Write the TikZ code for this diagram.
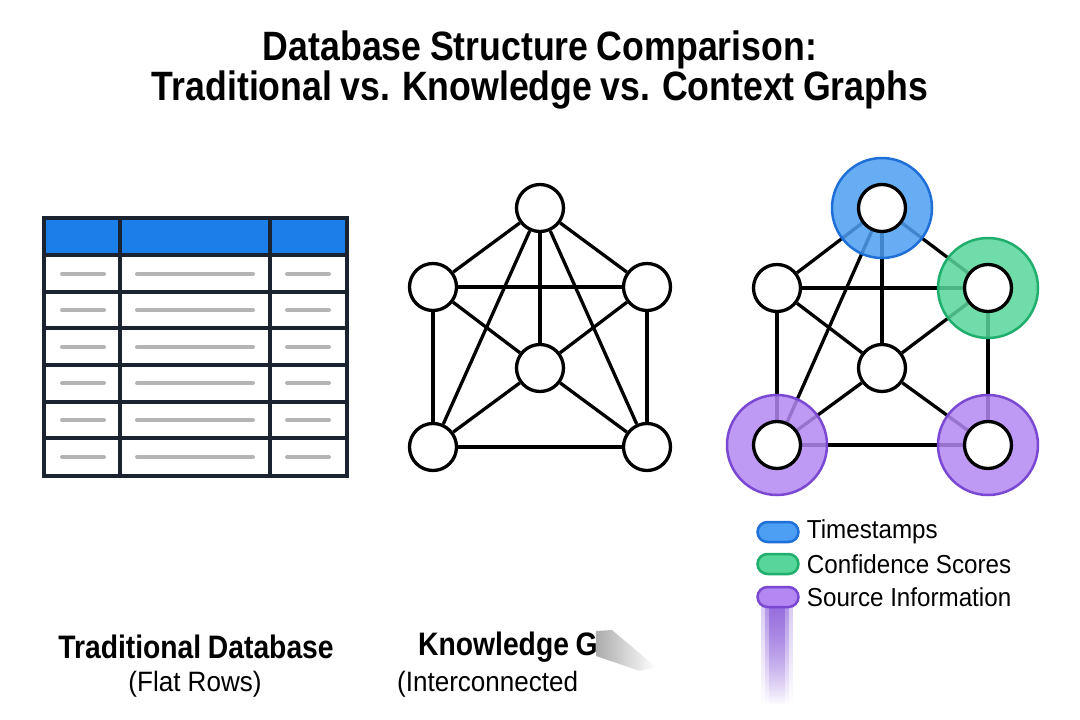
\documentclass[tikz,border=0pt]{standalone}
\usepackage{fontspec}
\setmainfont{Liberation Sans}[FakeStretch=0.93]
\newfontfamily\titlefont{Liberation Sans}[FakeStretch=0.87, WordSpace=0.85]
\usetikzlibrary{positioning, fadings, backgrounds}

\definecolor{hdrblue}{HTML}{1A7FE8}
\definecolor{tblline}{HTML}{1B2230}
\definecolor{rowgray}{HTML}{B4B4B4}
\definecolor{tsfill}{HTML}{4C9FF2}
\definecolor{tsdraw}{HTML}{1E6FD8}
\definecolor{cffill}{HTML}{56D69A}
\definecolor{cfdraw}{HTML}{20AE6C}
\definecolor{srcfill}{HTML}{B388F2}
\definecolor{srcdraw}{HTML}{7A48D2}

\pgfdeclarelayer{edges}
\pgfdeclarelayer{rings}
\pgfsetlayers{edges,rings,main}

\begin{document}
\begin{tikzpicture}[
    x=1pt, y=-1pt,
    % Styles
    vertex/.style={circle, draw=black, fill=white, line width=3.3pt, minimum size=47pt, inner sep=0pt},
    link/.style={line width=3.3pt, color=black},
    ring/.style={circle, line width=2.5pt, minimum size=100pt, inner sep=0pt, fill opacity=0.85},
    pill/.style={rectangle, rounded corners=10pt, line width=2.5pt, minimum width=41pt, minimum height=20pt, inner sep=0pt},
    legendtext/.style={anchor=west, inner sep=0pt, font=\fontsize{26}{30}\selectfont},
    heading/.style={inner sep=0pt, font=\titlefont\bfseries\fontsize{32.5}{36}\selectfont},
    subheading/.style={inner sep=0pt, font=\fontsize{28}{34}\selectfont},
    cell/.style={draw=tblline, line width=3.8pt},
    rowbar/.style={draw=rowgray, line width=4pt, line cap=round}
]
\useasboundingbox (0,0) rectangle (1080,720);

% Title
\node[align=center, font=\titlefont\bfseries\fontsize{41}{40}\selectfont] (title) at (540,70)
    {Database Structure Comparison:\\Traditional vs. Knowledge vs. Context Graphs};

% Traditional database table
\fill[hdrblue] (44,218) rectangle (347,255);
\foreach \y in {274,310,347,383,420,457} {
    \draw[rowbar] (62,\y) -- (104,\y);
    \draw[rowbar] (137,\y) -- (253,\y);
    \draw[rowbar] (287,\y) -- (329,\y);
}
\foreach \y in {255,292,328,365,402,438}
    \draw[cell] (44,\y) -- (347,\y);
\foreach \x in {120,270}
    \draw[cell] (\x,218) -- (\x,476);
\draw[cell] (44,218) rectangle (347,476);

% Knowledge graph
\node[vertex] (kT) at (540,208) {};
\node[vertex] (kL) at (433,287) {};
\node[vertex] (kR) at (647,287) {};
\node[vertex] (kC) at (540,368) {};
\node[vertex] (kBL) at (433,447) {};
\node[vertex] (kBR) at (647,447) {};
\begin{pgfonlayer}{edges}
\foreach \a/\b in {kT/kL, kT/kR, kT/kC, kT/kBL, kT/kBR, kL/kR, kL/kC, kL/kBL,
                   kR/kC, kR/kBR, kC/kBL, kC/kBR, kBL/kBR}
    \draw[link] (\a) -- (\b);
\end{pgfonlayer}

% Context graph
\node[vertex] (cT) at (882,208) {};
\node[vertex] (cL) at (777,288) {};
\node[vertex] (cR) at (988,288) {};
\node[vertex] (cC) at (882,368) {};
\node[vertex] (cBL) at (777,445) {};
\node[vertex] (cBR) at (988,445) {};
\begin{pgfonlayer}{edges}
\foreach \a/\b in {cT/cL, cT/cR, cT/cC, cT/cBL, cL/cR, cL/cC, cL/cBL,
                   cR/cC, cR/cBR, cC/cBL, cC/cBR, cBL/cBR}
    \draw[link] (\a) -- (\b);
\end{pgfonlayer}
\begin{pgfonlayer}{rings}
\node[ring, fill=tsfill, draw=tsdraw] (tsring) at (cT) {};
\node[ring, fill=cffill, draw=cfdraw] (cfring) at (cR) {};
\node[ring, fill=srcfill, draw=srcdraw] (srcringL) at (cBL) {};
\node[ring, fill=srcfill, draw=srcdraw] (srcringR) at (cBR) {};
\end{pgfonlayer}

% Legend
\node[pill, fill=tsfill, draw=tsdraw] (tskey) at (778,532) {};
\node[legendtext, right=7pt of tskey] (tslbl) {Timestamps};
\node[pill, fill=cffill, draw=cfdraw] (cfkey) at (778,564) {};
\node[legendtext, right=7pt of cfkey] (cflbl) {Confidence Scores};
\node[pill, fill=srcfill, draw=srcdraw] (srckey) at (778,597) {};
\node[legendtext, right=7pt of srckey] (srclbl) {Source Information};
\begin{pgfonlayer}{edges}
\foreach \w/\o in {16/0.3, 12/0.45, 8/0.6}
    \fill[srcdraw!85!srcfill, opacity=\o, path fading=south] ({777-\w},605) rectangle ({777+\w},705);
\end{pgfonlayer}

% Captions
\node[heading] (tradlbl) at (196,647) {Traditional Database};
\node[subheading] (tradsub) at (195,684) {(Flat Rows)};
\node[heading, anchor=west] (kglbl) at (418,647) {Knowledge G};
\node[subheading, anchor=west] (kgsub) at (397,684) {(Interconnected};
\shade[left color=black!60, right color=white, opacity=0.55]
    (596,631) -- (612,630) -- (656,667) -- (640,671) -- (596,656) -- cycle;

\end{tikzpicture}
\end{document}
